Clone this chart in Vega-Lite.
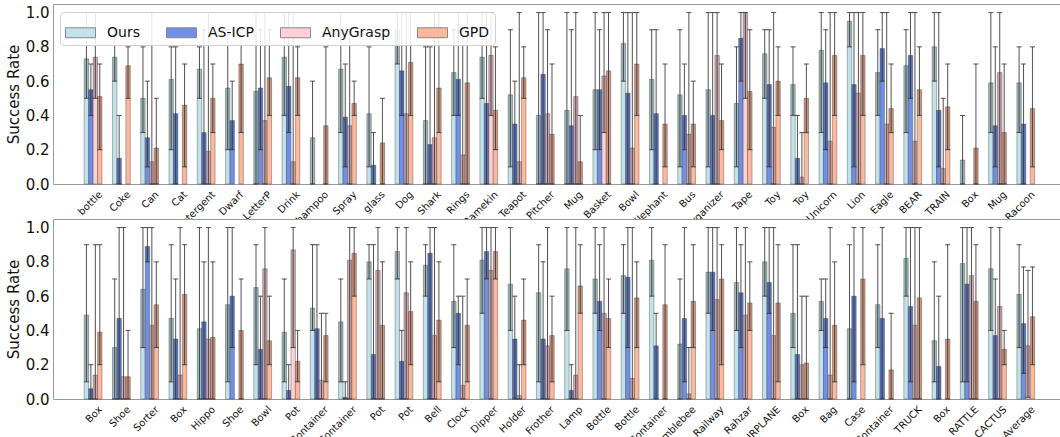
{
"$schema": "https://vega.github.io/schema/vega-lite/v6.json",
"padding": {"left": 5, "top": 3, "right": 2, "bottom": 0},
"config": {
  "font": "DejaVu Sans",
  "view": {"stroke": "#9a9a9a", "strokeWidth": 1, "fill": "white"},
  "axis": {"grid": false, "domain": false, "ticks": false, "labelColor": "#111", "titleColor": "#111"},
  "axisX": {"labelAngle": -45, "labelAlign": "right", "labelBaseline": "top", "labelFontSize": 10, "labelPadding": 5, "labelOffset": 4, "labelOverlap": false, "labelExpr": "split(datum.value, '|')[0]", "title": null},
  "axisY": {"values": [0, 0.2, 0.4, 0.6, 0.8, 1.0], "format": ".1f", "labelFontSize": 15, "labelPadding": 4, "labelOverlap": false, "titleFontSize": 15, "titleFontWeight": "normal", "titlePadding": 4},
  "legend": {"columnPadding": 24}
},
"bounds": "flush",
"spacing": 35,
"resolve": {"scale": {"color": "independent"}, "legend": {"color": "independent"}},
"datasets": {
"top": [
{"c":"bottle","s":"Ours","v":0.73,"lo":0.5,"hi":1},{"c":"bottle","s":"AS-ICP","v":0.55,"lo":0.4,"hi":0.7},{"c":"bottle","s":"AnyGrasp","v":0.74,"lo":0.5,"hi":1},{"c":"bottle","s":"GPD","v":0.51,"lo":0.2,"hi":0.7},
{"c":"Coke","s":"Ours","v":0.74,"lo":0.6,"hi":0.9},{"c":"Coke","s":"AS-ICP","v":0.15,"lo":0,"hi":0.4},{"c":"Coke","s":"GPD","v":0.69,"lo":0.5,"hi":0.8},
{"c":"Can","s":"Ours","v":0.5,"lo":0.3,"hi":0.8},{"c":"Can","s":"AS-ICP","v":0.27,"lo":0.1,"hi":0.6},{"c":"Can","s":"AnyGrasp","v":0.13,"lo":0,"hi":1},{"c":"Can","s":"GPD","v":0.21,"lo":0,"hi":0.5},
{"c":"Cat","s":"Ours","v":0.61,"lo":0.2,"hi":0.8},{"c":"Cat","s":"AS-ICP","v":0.41,"lo":0,"hi":0.8},{"c":"Cat","s":"GPD","v":0.46,"lo":0.1,"hi":0.7},
{"c":"Detergent","s":"Ours","v":0.67,"lo":0.5,"hi":0.8},{"c":"Detergent","s":"AS-ICP","v":0.3,"lo":0,"hi":0.9},{"c":"Detergent","s":"AnyGrasp","v":0.19,"lo":0,"hi":1},{"c":"Detergent","s":"GPD","v":0.5,"lo":0.3,"hi":0.7},
{"c":"Dwarf","s":"Ours","v":0.56,"lo":0.2,"hi":0.9},{"c":"Dwarf","s":"AS-ICP","v":0.37,"lo":0.2,"hi":0.6},{"c":"Dwarf","s":"GPD","v":0.7,"lo":0.3,"hi":0.9},
{"c":"LetterP","s":"Ours","v":0.54,"lo":0,"hi":1},{"c":"LetterP","s":"AS-ICP","v":0.56,"lo":0.2,"hi":0.9},{"c":"LetterP","s":"AnyGrasp","v":0.37,"lo":0,"hi":1},{"c":"LetterP","s":"GPD","v":0.62,"lo":0.4,"hi":0.9},
{"c":"Drink","s":"Ours","v":0.74,"lo":0.4,"hi":1},{"c":"Drink","s":"AS-ICP","v":0.57,"lo":0.3,"hi":1},{"c":"Drink","s":"AnyGrasp","v":0.13,"lo":0,"hi":1},{"c":"Drink","s":"GPD","v":0.62,"lo":0.4,"hi":0.8},
{"c":"Shampoo","s":"Ours","v":0.27,"lo":0,"hi":0.6},{"c":"Shampoo","s":"GPD","v":0.34,"lo":0,"hi":0.8},
{"c":"Spray","s":"Ours","v":0.67,"lo":0.3,"hi":1},{"c":"Spray","s":"AS-ICP","v":0.39,"lo":0.1,"hi":0.7},{"c":"Spray","s":"AnyGrasp","v":0.34,"lo":0,"hi":0.9},{"c":"Spray","s":"GPD","v":0.47,"lo":0.4,"hi":0.6},
{"c":"glass","s":"Ours","v":0.41,"lo":0.1,"hi":0.8},{"c":"glass","s":"AS-ICP","v":0.11,"lo":0,"hi":0.3},{"c":"glass","s":"GPD","v":0.24,"lo":0,"hi":0.5},
{"c":"Dog","s":"Ours","v":0.9,"lo":0.7,"hi":1},{"c":"Dog","s":"AS-ICP","v":0.66,"lo":0.4,"hi":1},{"c":"Dog","s":"AnyGrasp","v":0.41,"lo":0,"hi":1},{"c":"Dog","s":"GPD","v":0.71,"lo":0.4,"hi":1},
{"c":"Shark","s":"Ours","v":0.37,"lo":0,"hi":0.8},{"c":"Shark","s":"AS-ICP","v":0.23,"lo":0,"hi":0.8},{"c":"Shark","s":"AnyGrasp","v":0.27,"lo":0,"hi":1},{"c":"Shark","s":"GPD","v":0.56,"lo":0.3,"hi":1},
{"c":"Rings","s":"Ours","v":0.65,"lo":0.4,"hi":0.9},{"c":"Rings","s":"AS-ICP","v":0.61,"lo":0.4,"hi":1},{"c":"Rings","s":"AnyGrasp","v":0.17,"lo":0,"hi":0.9},{"c":"Rings","s":"GPD","v":0.59,"lo":0,"hi":1},
{"c":"Ramekin","s":"Ours","v":0.74,"lo":0.5,"hi":1},{"c":"Ramekin","s":"AS-ICP","v":0.47,"lo":0,"hi":1},{"c":"Ramekin","s":"AnyGrasp","v":0.75,"lo":0.4,"hi":1},{"c":"Ramekin","s":"GPD","v":0.43,"lo":0.2,"hi":0.8},
{"c":"Teapot","s":"Ours","v":0.52,"lo":0.1,"hi":0.9},{"c":"Teapot","s":"AS-ICP","v":0.35,"lo":0,"hi":0.6},{"c":"Teapot","s":"AnyGrasp","v":0.13,"lo":0,"hi":1},{"c":"Teapot","s":"GPD","v":0.62,"lo":0.5,"hi":0.8},
{"c":"Pitcher","s":"Ours","v":0.4,"lo":0,"hi":1},{"c":"Pitcher","s":"AS-ICP","v":0.64,"lo":0,"hi":1},{"c":"Pitcher","s":"AnyGrasp","v":0.41,"lo":0,"hi":0.9},{"c":"Pitcher","s":"GPD","v":0.29,"lo":0,"hi":0.7},
{"c":"Mug","s":"Ours","v":0.43,"lo":0,"hi":1},{"c":"Mug","s":"AS-ICP","v":0.34,"lo":0,"hi":0.9},{"c":"Mug","s":"AnyGrasp","v":0.51,"lo":0,"hi":1},{"c":"Mug","s":"GPD","v":0.13,"lo":0,"hi":0.4},
{"c":"Basket","s":"Ours","v":0.55,"lo":0.2,"hi":1},{"c":"Basket","s":"AS-ICP","v":0.55,"lo":0.2,"hi":0.9},{"c":"Basket","s":"AnyGrasp","v":0.63,"lo":0.3,"hi":1},{"c":"Basket","s":"GPD","v":0.66,"lo":0,"hi":1},
{"c":"Bowl","s":"Ours","v":0.82,"lo":0.6,"hi":1},{"c":"Bowl","s":"AS-ICP","v":0.53,"lo":0,"hi":1},{"c":"Bowl","s":"AnyGrasp","v":0.21,"lo":0,"hi":1},{"c":"Bowl","s":"GPD","v":0.7,"lo":0.4,"hi":1},
{"c":"Elephant","s":"Ours","v":0.61,"lo":0.2,"hi":0.9},{"c":"Elephant","s":"AS-ICP","v":0.41,"lo":0,"hi":0.9},{"c":"Elephant","s":"GPD","v":0.35,"lo":0.1,"hi":0.7},
{"c":"Bus","s":"Ours","v":0.52,"lo":0.1,"hi":0.9},{"c":"Bus","s":"AS-ICP","v":0.4,"lo":0.2,"hi":0.7},{"c":"Bus","s":"AnyGrasp","v":0.29,"lo":0,"hi":1},{"c":"Bus","s":"GPD","v":0.35,"lo":0.1,"hi":0.6},
{"c":"Organizer","s":"Ours","v":0.55,"lo":0.1,"hi":1},{"c":"Organizer","s":"AS-ICP","v":0.4,"lo":0,"hi":1},{"c":"Organizer","s":"AnyGrasp","v":0.75,"lo":0,"hi":1},{"c":"Organizer","s":"GPD","v":0.37,"lo":0.2,"hi":0.7},
{"c":"Tape","s":"Ours","v":0.47,"lo":0.1,"hi":0.8},{"c":"Tape","s":"AS-ICP","v":0.85,"lo":0.6,"hi":1},{"c":"Tape","s":"AnyGrasp","v":1.0,"lo":0.5,"hi":1},{"c":"Tape","s":"GPD","v":0.54,"lo":0.2,"hi":0.9},
{"c":"Toy|1","s":"Ours","v":0.76,"lo":0.5,"hi":0.9},{"c":"Toy|1","s":"AS-ICP","v":0.58,"lo":0.1,"hi":0.9},{"c":"Toy|1","s":"AnyGrasp","v":0.33,"lo":0,"hi":1},{"c":"Toy|1","s":"GPD","v":0.6,"lo":0.4,"hi":0.8},
{"c":"Toy|2","s":"Ours","v":0.58,"lo":0.4,"hi":0.8},{"c":"Toy|2","s":"AS-ICP","v":0.15,"lo":0,"hi":0.4},{"c":"Toy|2","s":"AnyGrasp","v":0.04,"lo":0,"hi":0.3},{"c":"Toy|2","s":"GPD","v":0.5,"lo":0.3,"hi":0.7},
{"c":"Unicorn","s":"Ours","v":0.78,"lo":0.3,"hi":1},{"c":"Unicorn","s":"AS-ICP","v":0.59,"lo":0.2,"hi":0.9},{"c":"Unicorn","s":"AnyGrasp","v":0.25,"lo":0,"hi":1},{"c":"Unicorn","s":"GPD","v":0.75,"lo":0.4,"hi":1},
{"c":"Lion","s":"Ours","v":0.95,"lo":0.8,"hi":1},{"c":"Lion","s":"AS-ICP","v":0.58,"lo":0.1,"hi":1},{"c":"Lion","s":"AnyGrasp","v":0.53,"lo":0,"hi":1},{"c":"Lion","s":"GPD","v":0.75,"lo":0.4,"hi":1},
{"c":"Eagle","s":"Ours","v":0.65,"lo":0.4,"hi":0.9},{"c":"Eagle","s":"AS-ICP","v":0.79,"lo":0.6,"hi":1},{"c":"Eagle","s":"AnyGrasp","v":0.35,"lo":0,"hi":1},{"c":"Eagle","s":"GPD","v":0.44,"lo":0.3,"hi":0.7},
{"c":"BEAR","s":"Ours","v":0.69,"lo":0.3,"hi":0.9},{"c":"BEAR","s":"AS-ICP","v":0.75,"lo":0.5,"hi":1},{"c":"BEAR","s":"AnyGrasp","v":0.25,"lo":0,"hi":1},{"c":"BEAR","s":"GPD","v":0.55,"lo":0.4,"hi":0.8},
{"c":"TRAIN","s":"Ours","v":0.8,"lo":0.6,"hi":1},{"c":"TRAIN","s":"AS-ICP","v":0.43,"lo":0.1,"hi":1},{"c":"TRAIN","s":"AnyGrasp","v":0.09,"lo":0,"hi":0.5},{"c":"TRAIN","s":"GPD","v":0.45,"lo":0.2,"hi":0.7},
{"c":"Box","s":"Ours","v":0.14,"lo":0,"hi":0.4},{"c":"Box","s":"GPD","v":0.21,"lo":0,"hi":0.7},
{"c":"Mug|2","s":"Ours","v":0.59,"lo":0.3,"hi":1},{"c":"Mug|2","s":"AS-ICP","v":0.34,"lo":0.1,"hi":0.8},{"c":"Mug|2","s":"AnyGrasp","v":0.65,"lo":0,"hi":1},{"c":"Mug|2","s":"GPD","v":0.3,"lo":0,"hi":0.7},
{"c":"Racoon","s":"Ours","v":0.59,"lo":0.3,"hi":0.8},{"c":"Racoon","s":"AS-ICP","v":0.35,"lo":0,"hi":0.7},{"c":"Racoon","s":"GPD","v":0.44,"lo":0.1,"hi":0.8}
],
"bottom": [
{"c":"Box|1","s":"Ours","v":0.49,"lo":0.1,"hi":0.9},{"c":"Box|1","s":"AS-ICP","v":0.06,"lo":0,"hi":0.2},{"c":"Box|1","s":"AnyGrasp","v":0.14,"lo":0,"hi":0.9},{"c":"Box|1","s":"GPD","v":0.39,"lo":0.2,"hi":0.9},
{"c":"Shoe|1","s":"Ours","v":0.3,"lo":0,"hi":0.7},{"c":"Shoe|1","s":"AS-ICP","v":0.47,"lo":0,"hi":1},{"c":"Shoe|1","s":"AnyGrasp","v":0.13,"lo":0,"hi":1},{"c":"Shoe|1","s":"GPD","v":0.13,"lo":0,"hi":0.4},
{"c":"Sorter","s":"Ours","v":0.64,"lo":0.3,"hi":1},{"c":"Sorter","s":"AS-ICP","v":0.89,"lo":0.8,"hi":1},{"c":"Sorter","s":"AnyGrasp","v":0.43,"lo":0,"hi":1},{"c":"Sorter","s":"GPD","v":0.55,"lo":0.3,"hi":0.8},
{"c":"Box|2","s":"Ours","v":0.47,"lo":0.1,"hi":0.9},{"c":"Box|2","s":"AS-ICP","v":0.35,"lo":0,"hi":0.7},{"c":"Box|2","s":"AnyGrasp","v":0.14,"lo":0,"hi":1},{"c":"Box|2","s":"GPD","v":0.61,"lo":0.2,"hi":0.9},
{"c":"Hippo","s":"Ours","v":0.41,"lo":0,"hi":1},{"c":"Hippo","s":"AS-ICP","v":0.45,"lo":0,"hi":0.8},{"c":"Hippo","s":"AnyGrasp","v":0.35,"lo":0,"hi":1},{"c":"Hippo","s":"GPD","v":0.36,"lo":0,"hi":0.8},
{"c":"Shoe|2","s":"Ours","v":0.55,"lo":0.1,"hi":1},{"c":"Shoe|2","s":"AS-ICP","v":0.6,"lo":0.3,"hi":1},{"c":"Shoe|2","s":"GPD","v":0.4,"lo":0,"hi":0.7},
{"c":"Bowl","s":"Ours","v":0.65,"lo":0.2,"hi":0.9},{"c":"Bowl","s":"AS-ICP","v":0.29,"lo":0,"hi":0.6},{"c":"Bowl","s":"AnyGrasp","v":0.76,"lo":0,"hi":1},{"c":"Bowl","s":"GPD","v":0.34,"lo":0.2,"hi":0.6},
{"c":"Pot|1","s":"Ours","v":0.39,"lo":0.1,"hi":0.7},{"c":"Pot|1","s":"AS-ICP","v":0.05,"lo":0,"hi":0.2},{"c":"Pot|1","s":"AnyGrasp","v":0.87,"lo":0.3,"hi":1},{"c":"Pot|1","s":"GPD","v":0.22,"lo":0.1,"hi":0.4},
{"c":"Container|1","s":"Ours","v":0.53,"lo":0.4,"hi":0.9},{"c":"Container|1","s":"AS-ICP","v":0.41,"lo":0,"hi":0.9},{"c":"Container|1","s":"AnyGrasp","v":0.11,"lo":0,"hi":0.5},{"c":"Container|1","s":"GPD","v":0.37,"lo":0.1,"hi":0.5},
{"c":"Container|2","s":"Ours","v":0.45,"lo":0.1,"hi":0.7},{"c":"Container|2","s":"AS-ICP","v":0.01,"lo":0,"hi":0.1},{"c":"Container|2","s":"AnyGrasp","v":0.81,"lo":0,"hi":1},{"c":"Container|2","s":"GPD","v":0.85,"lo":0.6,"hi":1},
{"c":"Pot|2","s":"Ours","v":0.8,"lo":0.7,"hi":0.9},{"c":"Pot|2","s":"AS-ICP","v":0.26,"lo":0,"hi":0.9},{"c":"Pot|2","s":"AnyGrasp","v":0.75,"lo":0,"hi":1},{"c":"Pot|2","s":"GPD","v":0.43,"lo":0,"hi":0.8},
{"c":"Pot|3","s":"Ours","v":0.86,"lo":0.7,"hi":1},{"c":"Pot|3","s":"AS-ICP","v":0.22,"lo":0,"hi":0.4},{"c":"Pot|3","s":"AnyGrasp","v":0.62,"lo":0,"hi":1},{"c":"Pot|3","s":"GPD","v":0.51,"lo":0.2,"hi":0.8},
{"c":"Bell","s":"Ours","v":0.78,"lo":0.6,"hi":0.9},{"c":"Bell","s":"AS-ICP","v":0.85,"lo":0,"hi":1},{"c":"Bell","s":"AnyGrasp","v":0.37,"lo":0,"hi":1},{"c":"Bell","s":"GPD","v":0.46,"lo":0.1,"hi":0.8},
{"c":"Clock","s":"Ours","v":0.57,"lo":0.3,"hi":0.9},{"c":"Clock","s":"AS-ICP","v":0.5,"lo":0.2,"hi":0.6},{"c":"Clock","s":"AnyGrasp","v":0.08,"lo":0,"hi":0.6},{"c":"Clock","s":"GPD","v":0.43,"lo":0.1,"hi":0.7},
{"c":"Dipper","s":"Ours","v":0.81,"lo":0.5,"hi":1},{"c":"Dipper","s":"AS-ICP","v":0.86,"lo":0.7,"hi":1},{"c":"Dipper","s":"AnyGrasp","v":0.75,"lo":0,"hi":1},{"c":"Dipper","s":"GPD","v":0.86,"lo":0.7,"hi":1},
{"c":"Holder","s":"Ours","v":0.67,"lo":0.4,"hi":1},{"c":"Holder","s":"AS-ICP","v":0.35,"lo":0,"hi":0.6},{"c":"Holder","s":"AnyGrasp","v":0.02,"lo":0,"hi":0.2},{"c":"Holder","s":"GPD","v":0.46,"lo":0.2,"hi":0.7},
{"c":"Frother","s":"Ours","v":0.62,"lo":0.1,"hi":0.9},{"c":"Frother","s":"AS-ICP","v":0.35,"lo":0,"hi":0.8},{"c":"Frother","s":"AnyGrasp","v":0.31,"lo":0,"hi":1},{"c":"Frother","s":"GPD","v":0.37,"lo":0.1,"hi":0.6},
{"c":"Lamp","s":"Ours","v":0.76,"lo":0.4,"hi":1},{"c":"Lamp","s":"AS-ICP","v":0.05,"lo":0,"hi":0.2},{"c":"Lamp","s":"AnyGrasp","v":0.14,"lo":0,"hi":1},{"c":"Lamp","s":"GPD","v":0.66,"lo":0.5,"hi":0.9},
{"c":"Bottle|1","s":"Ours","v":0.7,"lo":0.5,"hi":1},{"c":"Bottle|1","s":"AS-ICP","v":0.57,"lo":0.4,"hi":0.9},{"c":"Bottle|1","s":"AnyGrasp","v":0.5,"lo":0,"hi":1},{"c":"Bottle|1","s":"GPD","v":0.47,"lo":0.3,"hi":0.7},
{"c":"Bottle|2","s":"Ours","v":0.72,"lo":0.5,"hi":0.9},{"c":"Bottle|2","s":"AS-ICP","v":0.71,"lo":0.3,"hi":1},{"c":"Bottle|2","s":"AnyGrasp","v":0.12,"lo":0,"hi":1},{"c":"Bottle|2","s":"GPD","v":0.59,"lo":0.3,"hi":0.8},
{"c":"Container|3","s":"Ours","v":0.81,"lo":0.6,"hi":1},{"c":"Container|3","s":"AS-ICP","v":0.31,"lo":0,"hi":0.5},{"c":"Container|3","s":"GPD","v":0.55,"lo":0,"hi":0.9},
{"c":"Bumblebee","s":"Ours","v":0.32,"lo":0,"hi":0.7},{"c":"Bumblebee","s":"AS-ICP","v":0.47,"lo":0.1,"hi":1},{"c":"Bumblebee","s":"AnyGrasp","v":0.03,"lo":0,"hi":0.3},{"c":"Bumblebee","s":"GPD","v":0.57,"lo":0.3,"hi":0.9},
{"c":"Railway","s":"Ours","v":0.74,"lo":0.5,"hi":1},{"c":"Railway","s":"AS-ICP","v":0.74,"lo":0.4,"hi":1},{"c":"Railway","s":"AnyGrasp","v":0.58,"lo":0,"hi":1},{"c":"Railway","s":"GPD","v":0.7,"lo":0.2,"hi":0.9},
{"c":"Rahzar","s":"Ours","v":0.68,"lo":0.4,"hi":1},{"c":"Rahzar","s":"AS-ICP","v":0.62,"lo":0.3,"hi":0.9},{"c":"Rahzar","s":"AnyGrasp","v":0.49,"lo":0,"hi":1},{"c":"Rahzar","s":"GPD","v":0.56,"lo":0.4,"hi":0.8},
{"c":"AIRPLANE","s":"Ours","v":0.8,"lo":0.6,"hi":1},{"c":"AIRPLANE","s":"AS-ICP","v":0.68,"lo":0.5,"hi":1},{"c":"AIRPLANE","s":"AnyGrasp","v":0.37,"lo":0,"hi":1},{"c":"AIRPLANE","s":"GPD","v":0.56,"lo":0.1,"hi":0.9},
{"c":"Box|3","s":"Ours","v":0.5,"lo":0.3,"hi":0.9},{"c":"Box|3","s":"AS-ICP","v":0.26,"lo":0,"hi":0.9},{"c":"Box|3","s":"AnyGrasp","v":0.2,"lo":0,"hi":0.6},{"c":"Box|3","s":"GPD","v":0.21,"lo":0,"hi":0.6},
{"c":"Bag","s":"Ours","v":0.57,"lo":0.4,"hi":0.7},{"c":"Bag","s":"AS-ICP","v":0.47,"lo":0.3,"hi":0.7},{"c":"Bag","s":"AnyGrasp","v":0.14,"lo":0,"hi":1},{"c":"Bag","s":"GPD","v":0.43,"lo":0.1,"hi":0.8},
{"c":"Case","s":"Ours","v":0.41,"lo":0,"hi":0.9},{"c":"Case","s":"AS-ICP","v":0.6,"lo":0.1,"hi":1},{"c":"Case","s":"GPD","v":0.7,"lo":0.2,"hi":1},
{"c":"Container|4","s":"Ours","v":0.55,"lo":0.3,"hi":0.9},{"c":"Container|4","s":"AS-ICP","v":0.47,"lo":0,"hi":1},{"c":"Container|4","s":"GPD","v":0.17,"lo":0,"hi":0.5},
{"c":"TRUCK","s":"Ours","v":0.82,"lo":0.6,"hi":1},{"c":"TRUCK","s":"AS-ICP","v":0.54,"lo":0.1,"hi":1},{"c":"TRUCK","s":"AnyGrasp","v":0.43,"lo":0,"hi":1},{"c":"TRUCK","s":"GPD","v":0.59,"lo":0,"hi":1},
{"c":"Box|4","s":"Ours","v":0.34,"lo":0.1,"hi":0.8},{"c":"Box|4","s":"AS-ICP","v":0.19,"lo":0,"hi":0.6},{"c":"Box|4","s":"GPD","v":0.35,"lo":0,"hi":0.9},
{"c":"RATTLE","s":"Ours","v":0.79,"lo":0.1,"hi":1},{"c":"RATTLE","s":"AS-ICP","v":0.67,"lo":0.1,"hi":1},{"c":"RATTLE","s":"AnyGrasp","v":0.72,"lo":0,"hi":1},{"c":"RATTLE","s":"GPD","v":0.57,"lo":0,"hi":0.9},
{"c":"CACTUS","s":"Ours","v":0.76,"lo":0.4,"hi":1},{"c":"CACTUS","s":"AS-ICP","v":0.37,"lo":0,"hi":0.7},{"c":"CACTUS","s":"AnyGrasp","v":0.54,"lo":0,"hi":1},{"c":"CACTUS","s":"GPD","v":0.29,"lo":0.2,"hi":0.4},
{"c":"Average","s":"Ours","v":0.61,"lo":0.3,"hi":0.9},{"c":"Average","s":"AS-ICP","v":0.44,"lo":0.15,"hi":0.77},{"c":"Average","s":"AnyGrasp","v":0.31,"lo":0.01,"hi":0.75},{"c":"Average","s":"GPD","v":0.48,"lo":0.2,"hi":0.77}
]
},
"vconcat": [
{
 "width": 1007, "height": 180,
 "data": {"name": "top"},
 "encoding": {
  "x": {"field": "c", "type": "nominal", "sort": null, "title": null,
        "scale": {"paddingInner": 0.37, "paddingOuter": 1.495, "align": 0.552},
        "axis": {"labelAngle": -45, "labelAlign": "right", "labelBaseline": "top"}},
  "xOffset": {"field": "s", "type": "nominal", "scale": {"domain": ["Ours", "AS-ICP", "AnyGrasp", "GPD"], "paddingInner": 0, "paddingOuter": 0}}
 },
 "layer": [
  {"mark": {"type": "bar", "stroke": "#333", "strokeOpacity": 0.45, "strokeWidth": 0.8},
   "encoding": {
    "y": {"field": "v", "type": "quantitative", "title": "Success Rate", "scale": {"domain": [0, 1.05], "nice": false}},
    "color": {"field": "s", "type": "nominal",
      "scale": {"domain": ["Ours", "AS-ICP", "AnyGrasp", "GPD"], "range": ["#c2e2ea", "#7090e8", "#fdd0d6", "#fdb79b"]},
      "legend": {"title": null, "orient": "none", "legendX": 7, "legendY": 8, "direction": "horizontal", "columns": 4,
        "symbolType": "M-1,-0.3333H1V0.3333H-1Z", "symbolSize": 900, "symbolStrokeColor": "#888", "symbolStrokeWidth": 1,
        "labelFontSize": 14, "labelOffset": 11, "columnPadding": 24, "padding": 5,
        "fillColor": "rgba(255,255,255,0.85)", "strokeColor": "#d0d0d0", "cornerRadius": 4, "labelColor": "#111"}}
   }},
  {"transform": [{"filter": "datum.v > datum.lo"}],
   "mark": {"type": "bar", "color": "black", "opacity": 0.18},
   "encoding": {"y": {"field": "lo", "type": "quantitative", "title": "Success Rate", "scale": {"domain": [0, 1.05], "nice": false}}, "y2": {"field": "v"}}},
  {"mark": {"type": "rule", "color": "#333", "strokeWidth": 1, "opacity": 0.85},
   "encoding": {"y": {"field": "lo", "type": "quantitative", "title": "Success Rate", "scale": {"domain": [0, 1.05], "nice": false}}, "y2": {"field": "hi"}}},
  {"mark": {"type": "tick", "color": "#333", "size": 5, "thickness": 1, "opacity": 0.85},
   "encoding": {"y": {"field": "hi", "type": "quantitative", "title": "Success Rate", "scale": {"domain": [0, 1.05], "nice": false}}}},
  {"mark": {"type": "tick", "color": "#333", "size": 5, "thickness": 1, "opacity": 0.85},
   "encoding": {"y": {"field": "lo", "type": "quantitative", "title": "Success Rate", "scale": {"domain": [0, 1.05], "nice": false}}}}
 ]
},
{
 "width": 1007, "height": 180,
 "data": {"name": "bottom"},
 "encoding": {
  "x": {"field": "c", "type": "nominal", "sort": null, "title": null,
        "scale": {"paddingInner": 0.37, "paddingOuter": 1.495, "align": 0.552},
        "axis": {"labelAngle": -45, "labelAlign": "right", "labelBaseline": "top"}},
  "xOffset": {"field": "s", "type": "nominal", "scale": {"domain": ["Ours", "AS-ICP", "AnyGrasp", "GPD"], "paddingInner": 0, "paddingOuter": 0}}
 },
 "layer": [
  {"mark": {"type": "bar", "stroke": "#333", "strokeOpacity": 0.45, "strokeWidth": 0.8},
   "encoding": {
    "y": {"field": "v", "type": "quantitative", "title": "Success Rate", "scale": {"domain": [0, 1.05], "nice": false}},
    "color": {"field": "s", "type": "nominal",
      "scale": {"domain": ["Ours", "AS-ICP", "AnyGrasp", "GPD"], "range": ["#c2e2ea", "#7090e8", "#fdd0d6", "#fdb79b"]},
      "legend": null}
   }},
  {"transform": [{"filter": "datum.v > datum.lo"}],
   "mark": {"type": "bar", "color": "black", "opacity": 0.18},
   "encoding": {"y": {"field": "lo", "type": "quantitative", "title": "Success Rate", "scale": {"domain": [0, 1.05], "nice": false}}, "y2": {"field": "v"}}},
  {"mark": {"type": "rule", "color": "#333", "strokeWidth": 1, "opacity": 0.85},
   "encoding": {"y": {"field": "lo", "type": "quantitative", "title": "Success Rate", "scale": {"domain": [0, 1.05], "nice": false}}, "y2": {"field": "hi"}}},
  {"mark": {"type": "tick", "color": "#333", "size": 5, "thickness": 1, "opacity": 0.85},
   "encoding": {"y": {"field": "hi", "type": "quantitative", "title": "Success Rate", "scale": {"domain": [0, 1.05], "nice": false}}}},
  {"mark": {"type": "tick", "color": "#333", "size": 5, "thickness": 1, "opacity": 0.85},
   "encoding": {"y": {"field": "lo", "type": "quantitative", "title": "Success Rate", "scale": {"domain": [0, 1.05], "nice": false}}}}
 ]
}
]
}
